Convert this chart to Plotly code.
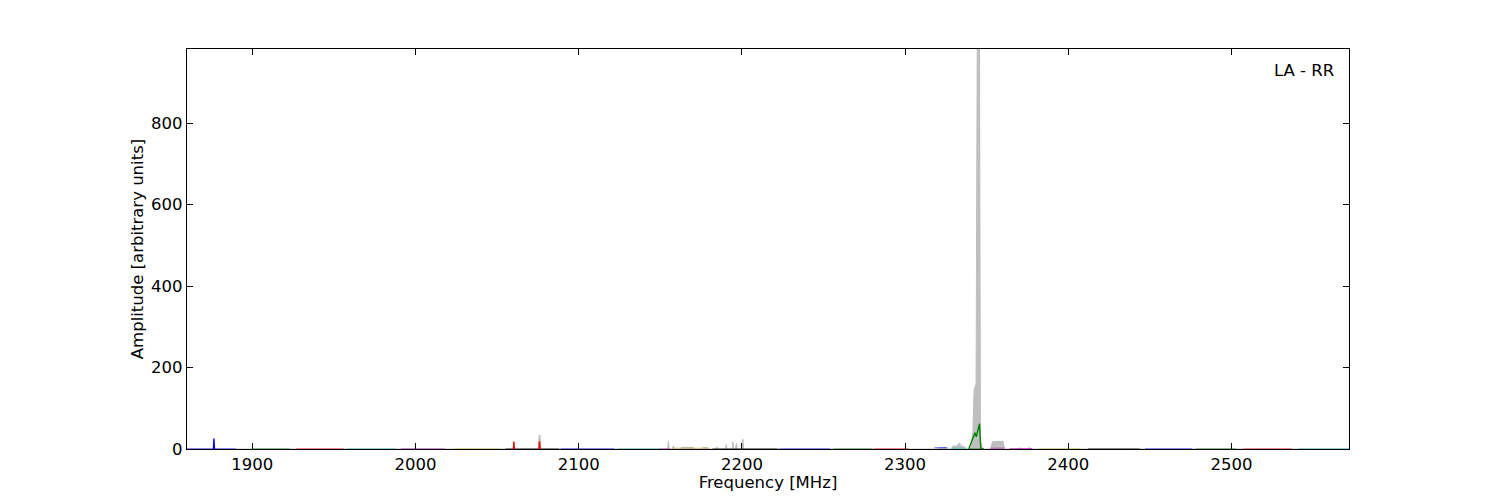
import plotly.graph_objects as go

# ---- data ----
# grey max-hold envelope
grey_freq = [1860, 2075.3, 2075.8, 2076.3, 2076.8, 2154.5, 2155.0, 2155.5, 2157.5, 2158.0, 2158.5,
             2162.0, 2163.0, 2170.0, 2171.0, 2175.0, 2176.0, 2179.0, 2180.0,
             2184.2, 2184.7, 2185.2, 2189.9, 2190.4, 2190.9, 2194.0, 2194.5, 2195.0,
             2196.1, 2196.6, 2197.1, 2200.1, 2200.6, 2201.1,
             2320.0, 2321.0, 2325.0, 2326.0, 2328.5, 2329.5, 2331.0, 2333.5, 2334.0, 2336.0, 2337.0,
             2339.5, 2340.5, 2341.5, 2342.3, 2343.5, 2344.2, 2345.6, 2346.2, 2347.0, 2348.5,
             2352.5, 2353.5, 2360.0, 2361.0, 2369.5, 2370.5, 2372.0, 2375.0, 2376.0, 2378.0, 2572]
grey_amp = [0, 0, 34, 34, 0, 0, 19, 0, 0, 8, 0,
            0, 4, 4, 0, 0, 3, 3, 0,
            0, 5, 0, 0, 11, 0, 0, 18, 0,
            0, 14, 0, 0, 24, 0,
            0, 4, 4, 0, 0, 8, 6, 15, 8, 6, 0,
            0, 5, 40, 145, 160, 990, 990, 20, 5, 0,
            0, 18, 19, 0, 0, 3, 0, 0, 3, 0, 0]

# coloured sub-band traces (near-zero baselines)
band_start = [1860, 1900, 1927, 1958, 1991, 2024, 2055, 2089, 2124, 2150, 2157, 2182, 2223, 2256, 2281,
              2318, 2328, 2339, 2352, 2364, 2382, 2412, 2447, 2478, 2507, 2541]
band_end = [1890, 1923, 1956, 1988, 2018, 2052, 2088, 2122, 2150, 2156, 2180, 2222, 2254, 2280, 2302,
            2326, 2338, 2348, 2361, 2378, 2407, 2444, 2476, 2503, 2537, 2572]
band_color = ['#0000ff', '#008000', '#ff0000', '#00bfbf', '#bf00bf', '#bfbf00', '#000000', '#0000ff',
              '#00bfbf', '#bf00bf', '#cc9a1a', '#000000', '#0000ff', '#008000', '#ff0000',
              '#0000ff', '#00bfbf', '#008000', '#bf00bf', '#bf00bf', '#bfbf00', '#000000', '#0000ff',
              '#008000', '#ff0000', '#00bfbf']
band_level = [0.3, 0.3, 0.3, 0.3, 0.3, 0.3, 0.3, 0.3, 0.3, 0.3, 2, 0.3, 0.3, 0.3, 0.3,
              3, 2, 0.3, 2, 1, 0.3, 0.3, 0.3, 0.3, 0.3, 0.3]

# green hump near the strong carrier
hump_freq = [2339, 2341.8, 2342.8, 2343.6, 2345.6, 2346.4, 2348]
hump_amp = [0.3, 28, 40, 30, 62, 0.3, 0.3]

# narrow spikes in coloured traces
spike_freq = [1876.5, 2060.3, 2076.0]
spike_amp = [26, 18, 19]
spike_color = ['#0000ff', '#ff0000', '#ff0000']

x_ticks = [1900, 2000, 2100, 2200, 2300, 2400, 2500]
y_ticks = [0, 200, 400, 600, 800]

fig = go.Figure()
fig.add_trace(go.Scatter(x=grey_freq, y=grey_amp, mode='lines', fill='tozeroy',
                         line=dict(color='#bfbfbf', width=1), fillcolor='#bfbfbf',
                         hoverinfo='skip', showlegend=False))

for s, e, c, lv in zip(band_start, band_end, band_color, band_level):
    fig.add_trace(go.Scatter(x=[s, e], y=[lv, lv], mode='lines',
                             line=dict(color=c, width=1), opacity=0.6, showlegend=False))

fig.add_trace(go.Scatter(x=hump_freq, y=hump_amp, mode='lines',
                         line=dict(color='#008000', width=1.4), showlegend=False))

for f, a, c in zip(spike_freq, spike_amp, spike_color):
    fig.add_trace(go.Scatter(x=[f - 0.3, f, f + 0.3], y=[0, a, 0], mode='lines',
                             line=dict(color=c, width=1.4), showlegend=False))

fig.add_annotation(text='LA - RR', xref='paper', yref='paper', x=1, y=1,
                   xanchor='right', yanchor='middle', xshift=-13, yshift=-21,
                   showarrow=False, font=dict(size=16.5, color='black'))

axis_common = dict(showline=True, linecolor='black', linewidth=1.3, mirror='ticks',
                   ticks='inside', ticklen=6, tickwidth=1, tickcolor='black',
                   showgrid=False, zeroline=False, automargin=False,
                   tickfont=dict(size=16.5, color='black'))

fig.update_xaxes(range=[1860, 2572], tickvals=x_ticks, ticktext=[str(v) for v in x_ticks],
                 title=dict(text='Frequency [MHz]', font=dict(size=16.5, color='black'), standoff=3),
                 **axis_common)
fig.update_yaxes(range=[0, 982], tickvals=y_ticks, ticktext=[str(v) for v in y_ticks],
                 title=dict(text='Amplitude [arbitrary units]', font=dict(size=16.5, color='black'), standoff=3),
                 **axis_common)

fig.update_layout(width=1484, height=484, paper_bgcolor='white', plot_bgcolor='white',
                  margin=dict(l=179, r=143, t=41, b=43),
                  font=dict(family='DejaVu Sans', size=16.5, color='black'),
                  showlegend=False)

fig.write_html('out.html')
